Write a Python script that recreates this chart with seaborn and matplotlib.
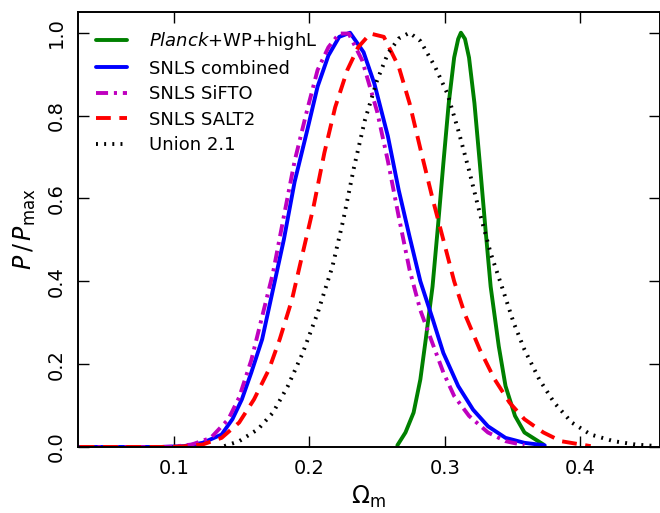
import matplotlib
matplotlib.use("Agg")
import matplotlib.pyplot as plt
import seaborn as sns

# --- datos (Omega_m, P/Pmax) ---
planck_x = [0.265, 0.271, 0.277, 0.282, 0.286, 0.291, 0.295, 0.299, 0.303, 0.307,
            0.310, 0.312, 0.315, 0.318, 0.322, 0.326, 0.330, 0.334, 0.340, 0.345,
            0.352, 0.359, 0.373]
planck_y = [0.004, 0.035, 0.083, 0.163, 0.26, 0.387, 0.532, 0.684, 0.83, 0.94,
            0.985, 1.0, 0.985, 0.94, 0.83, 0.684, 0.532, 0.387, 0.243, 0.147,
            0.075, 0.035, 0.006]

comb_x = [0.030, 0.060, 0.090, 0.107, 0.121, 0.135, 0.143, 0.150, 0.157, 0.165,
          0.173, 0.181, 0.189, 0.198, 0.206, 0.214, 0.222, 0.230, 0.240, 0.248,
          0.258, 0.266, 0.274, 0.282, 0.291, 0.299, 0.310, 0.321, 0.332, 0.345,
          0.359, 0.374]
comb_y = [0.0, 0.0, 0.0, 0.002, 0.01, 0.03, 0.067, 0.115, 0.18, 0.26,
          0.38, 0.50, 0.64, 0.76, 0.87, 0.945, 0.99, 1.0, 0.953, 0.877,
          0.75, 0.62, 0.508, 0.40, 0.31, 0.227, 0.147, 0.09, 0.05, 0.022,
          0.01, 0.004]

sifto_x = [0.030, 0.060, 0.090, 0.100, 0.113, 0.127, 0.140, 0.148, 0.157, 0.165,
           0.173, 0.181, 0.189, 0.198, 0.206, 0.214, 0.222, 0.229, 0.239, 0.250,
           0.258, 0.266, 0.274, 0.282, 0.291, 0.299, 0.307, 0.318, 0.332, 0.345,
           0.359]
sifto_y = [0.0, 0.0, 0.0, 0.001, 0.006, 0.022, 0.067, 0.12, 0.21, 0.315,
           0.42, 0.556, 0.69, 0.81, 0.91, 0.965, 0.998, 0.998, 0.933, 0.81,
           0.69, 0.556, 0.428, 0.33, 0.25, 0.18, 0.123, 0.075, 0.035, 0.014,
           0.004]

salt2_x = [0.030, 0.060, 0.090, 0.105, 0.121, 0.135, 0.148, 0.159, 0.170, 0.178,
           0.187, 0.195, 0.203, 0.211, 0.219, 0.228, 0.236, 0.245, 0.255, 0.266,
           0.274, 0.282, 0.291, 0.299, 0.307, 0.315, 0.326, 0.337, 0.348, 0.359,
           0.373, 0.386, 0.408]
salt2_y = [0.0, 0.0, 0.0, 0.001, 0.006, 0.022, 0.059, 0.115, 0.187, 0.26,
           0.355, 0.468, 0.58, 0.71, 0.82, 0.91, 0.965, 0.998, 0.99, 0.918,
           0.83, 0.72, 0.60, 0.50, 0.40, 0.32, 0.235, 0.163, 0.107, 0.067,
           0.035, 0.014, 0.002]

union_x = [0.137, 0.148, 0.162, 0.173, 0.184, 0.195, 0.206, 0.217, 0.225, 0.233,
           0.241, 0.250, 0.258, 0.266, 0.274, 0.282, 0.293, 0.302, 0.310, 0.318,
           0.326, 0.334, 0.343, 0.351, 0.359, 0.370, 0.381, 0.394, 0.408, 0.425,
           0.441, 0.457]
union_y = [0.002, 0.014, 0.043, 0.083, 0.147, 0.227, 0.323, 0.436, 0.548, 0.676,
           0.789, 0.885, 0.95, 0.986, 1.0, 0.98, 0.917, 0.853, 0.765, 0.668,
           0.564, 0.468, 0.38, 0.30, 0.235, 0.163, 0.107, 0.059, 0.03, 0.014,
           0.006, 0.002]

labels = [r'$\mathit{Planck}$+WP+highL', 'SNLS combined', 'SNLS SiFTO',
          'SNLS SALT2', 'Union 2.1']
xticks = [0.1, 0.2, 0.3, 0.4]
yticks = [0.0, 0.2, 0.4, 0.6, 0.8, 1.0]


def main():
    sns.set_style('ticks')
    plt.rcParams['font.family'] = ['DejaVu Sans']
    plt.rcParams['mathtext.fontset'] = 'dejavusans'
    # texto negro como en la figura original
    plt.rcParams['text.color'] = 'black'
    plt.rcParams['axes.labelcolor'] = 'black'
    plt.rcParams['xtick.color'] = 'black'
    plt.rcParams['ytick.color'] = 'black'

    fig, ax = plt.subplots(figsize=(6.6, 5.13), dpi=100)
    fig.subplots_adjust(left=0.1186, right=0.9995, bottom=0.1287, top=0.9766)

    lw = 2.8
    series = [
        (planck_x, planck_y, (0, 0.5, 0), '-'),
        (comb_x, comb_y, (0, 0, 1), '-'),
        (sifto_x, sifto_y, (0.75, 0, 0.75), (0, (3.1, 1.5, 0.8, 1.5))),
        (salt2_x, salt2_y, (1, 0, 0), (0, (3.8, 2.2))),
        (union_x, union_y, (0, 0, 0), (0, (0.5, 1.6))),
    ]
    for (xs, ys, col, ls), lab in zip(series, labels):
        sns.lineplot(x=xs, y=ys, ax=ax, color=col, lw=lw, linestyle=ls,
                     label=lab, estimator=None, sort=False)

    ax.set_xlim(0.029, 0.459)
    ax.set_ylim(0, 1.05)
    ax.set_xticks(xticks)
    ax.set_yticks(yticks)
    ax.set_xticklabels([f'{t:.1f}' for t in xticks])
    ax.set_yticklabels([f'{t:.1f}' for t in yticks], rotation=90, va='center')
    ax.tick_params(direction='in', length=8, width=1, top=True, right=True,
                   labelsize=14, pad=9, colors='black')

    for sp in ax.spines.values():
        sp.set_linewidth(1.4)
        sp.set_color('black')

    ax.set_xlabel(r'$\Omega_{\rm m}$', fontsize=17, labelpad=4)
    ax.set_ylabel(r'$P\,/\,P_{\rm max}$', fontsize=17, labelpad=6)

    ax.legend(loc='upper left', frameon=False, fontsize=13, handlelength=1.7,
              handletextpad=1.2, labelspacing=0.42, borderaxespad=0.6)

    fig.savefig('out.png', dpi=100)


if __name__ == "__main__":
    main()
